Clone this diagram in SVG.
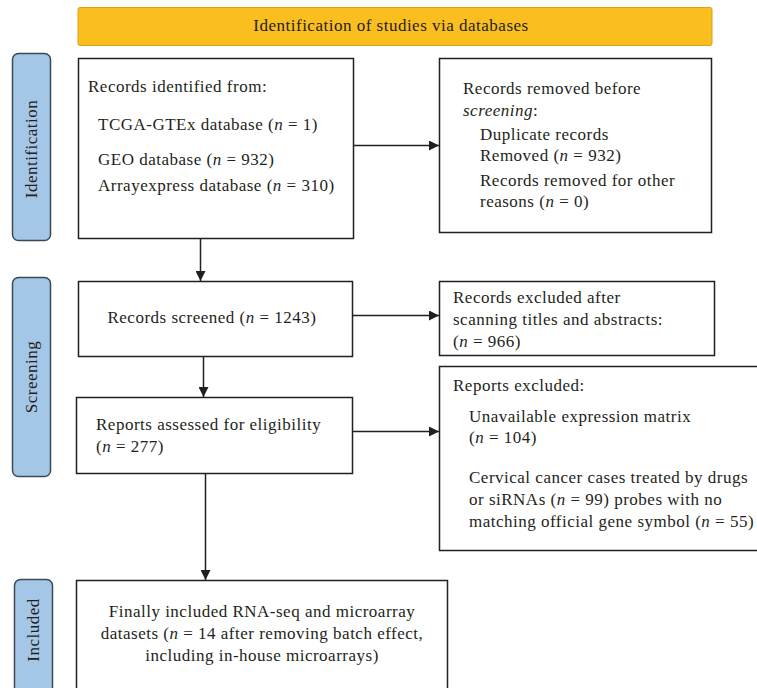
<svg xmlns="http://www.w3.org/2000/svg" width="757" height="688" viewBox="0 0 757 688">
<defs>
<marker id="ah" viewBox="0 0 10 10" refX="10" refY="5" markerWidth="10" markerHeight="10" markerUnits="userSpaceOnUse" orient="auto">
<path d="M0,0 L10,5 L0,10 z" fill="#231f20"/>
</marker>
<style>
text{font-family:"Liberation Serif","Times New Roman",serif;font-size:17px;letter-spacing:0.5px;fill:#231f20}
.box{fill:#fff;stroke:#231f20;stroke-width:1.5}
.side{fill:#a5c7e7;stroke:#3d4a55;stroke-width:1.5}
.side-t{text-anchor:middle}
.conn{stroke:#231f20;stroke-width:1.5;fill:none;marker-end:url(#ah)}
</style>
</defs>
<rect width="757" height="688" fill="#fff"/>
<g id="banner">
<rect x="78" y="7.5" width="634" height="38" rx="2" fill="#fbbe1f" stroke="#d9a21a" stroke-width="1"/>
<text x="391" y="31" text-anchor="middle">Identification of studies via databases</text>
</g>
<g id="side-identification">
<rect class="side" x="12.5" y="53.5" width="38" height="187" rx="6"/>
<text class="side-t" transform="translate(37,149) rotate(-90)">Identification</text>
</g>
<g id="side-screening">
<rect class="side" x="12.5" y="277.5" width="38" height="199" rx="6"/>
<text class="side-t" transform="translate(37,377) rotate(-90)">Screening</text>
</g>
<g id="side-included">
<rect class="side" x="14.5" y="579.5" width="38" height="130" rx="6"/>
<text class="side-t" transform="translate(39,630) rotate(-90)">Included</text>
</g>
<g id="records-identified">
<rect class="box" x="78.5" y="58.5" width="275" height="180"/>
<text x="88" y="92">Records identified from:</text>
<text x="98" y="130">TCGA-GTEx database (<tspan font-style="italic">n</tspan> = 1)</text>
<text x="98" y="165">GEO database (<tspan font-style="italic">n</tspan> = 932)</text>
<text x="98" y="191">Arrayexpress database (<tspan font-style="italic">n</tspan> = 310)</text>
</g>
<g id="records-removed">
<rect class="box" x="439.5" y="58.5" width="272" height="174"/>
<text x="463" y="94">Records removed before</text>
<text x="463" y="116"><tspan font-style="italic">screening</tspan>:</text>
<text x="480" y="140">Duplicate records</text>
<text x="480" y="161">Removed (<tspan font-style="italic">n</tspan> = 932)</text>
<text x="480" y="186">Records removed for other</text>
<text x="480" y="207">reasons (<tspan font-style="italic">n</tspan> = 0)</text>
</g>
<g id="records-screened">
<rect class="box" x="78.5" y="281.5" width="274" height="75"/>
<text x="212" y="323" text-anchor="middle">Records screened (<tspan font-style="italic">n</tspan> = 1243)</text>
</g>
<g id="records-excluded">
<rect class="box" x="439.5" y="281.5" width="275" height="74"/>
<text x="453" y="303">Records excluded after</text>
<text x="453" y="325">scanning titles and abstracts:</text>
<text x="453" y="347">(<tspan font-style="italic">n</tspan> = 966)</text>
</g>
<g id="reports-assessed">
<rect class="box" x="76.5" y="397.5" width="276" height="76"/>
<text x="96" y="430">Reports assessed for eligibility</text>
<text x="96" y="452">(<tspan font-style="italic">n</tspan> = 277)</text>
</g>
<g id="reports-excluded">
<rect class="box" x="439.5" y="366.5" width="330" height="184"/>
<text x="453" y="391">Reports excluded:</text>
<text x="469" y="422">Unavailable expression matrix</text>
<text x="469" y="443">(<tspan font-style="italic">n</tspan> = 104)</text>
<text x="469" y="483">Cervical cancer cases treated by drugs</text>
<text x="469" y="505">or siRNAs (<tspan font-style="italic">n</tspan> = 99) probes with no</text>
<text x="469" y="527">matching official gene symbol  (<tspan font-style="italic">n</tspan> = 55)</text>
</g>
<g id="finally-included">
<rect class="box" x="76.5" y="580.5" width="371" height="130"/>
<text x="262" y="617" text-anchor="middle">Finally included RNA-seq and microarray</text>
<text x="262" y="639" text-anchor="middle">datasets (<tspan font-style="italic">n</tspan> = 14 after removing batch effect,</text>
<text x="262" y="661" text-anchor="middle">including in-house microarrays)</text>
</g>
<g id="connectors">
<path class="conn" d="M353.5,145.5 H439"/>
<path class="conn" d="M200.5,238.5 V281"/>
<path class="conn" d="M352.5,315.5 H439"/>
<path class="conn" d="M203.5,356.5 V397"/>
<path class="conn" d="M352.5,431.5 H439"/>
<path class="conn" d="M205.5,473.5 V580"/>
</g>
</svg>
